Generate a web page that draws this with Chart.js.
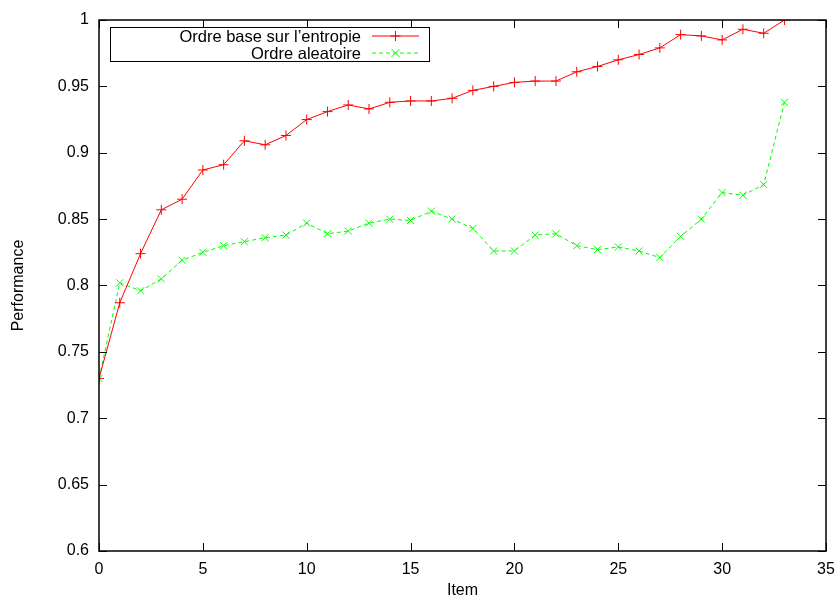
<!DOCTYPE html>
<html>
<head>
<meta charset="utf-8">
<script src="https://cdn.jsdelivr.net/npm/chart.js@4/dist/chart.umd.min.js"></script>
<style>
  body { margin: 0; background: #fff; }
  canvas { display: block; }
</style>
</head>
<body>
<canvas id="perfChart" width="838" height="600"></canvas>
<script>
// Items 0..33
const items = [0, 1, 2, 3, 4, 5, 6, 7, 8, 9, 10, 11, 12, 13, 14, 15, 16,
    17, 18, 19, 20, 21, 22, 23, 24, 25, 26, 27, 28, 29, 30, 31, 32, 33];

// Ordre base sur l'entropie
const entropyPerf = [0.730, 0.787, 0.824, 0.857, 0.865, 0.887, 0.891, 0.909, 0.906, 0.913,
    0.925, 0.931, 0.936, 0.933, 0.938, 0.939, 0.939, 0.941, 0.947, 0.950,
    0.953, 0.954, 0.954, 0.961, 0.965, 0.970, 0.974, 0.979, 0.989, 0.988,
    0.985, 0.993, 0.990, 1.000];

// Ordre aleatoire
const randomPerf = [0.730, 0.802, 0.796, 0.805, 0.819, 0.825, 0.830, 0.833, 0.836, 0.838,
    0.847, 0.839, 0.841, 0.847, 0.850, 0.849, 0.856, 0.850, 0.843, 0.826,
    0.826, 0.838, 0.839, 0.830, 0.827, 0.829, 0.826, 0.821, 0.837, 0.850,
    0.870, 0.868, 0.876, 0.938];

const xTicks = [0, 5, 10, 15, 20, 25, 30, 35];
const yTicks = [0.6, 0.65, 0.7, 0.75, 0.8, 0.85, 0.9, 0.95, 1];

const FONT = 'Liberation Sans, Arial, sans-serif';

// Gnuplot style frame: border plus inward tick marks on all sides
const framePlugin = {
    id: 'frame',
    afterDraw(chart) {
        const ctx = chart.ctx;
        const area = chart.chartArea;
        const xs = chart.scales.x;
        const ys = chart.scales.y;
        ctx.save();
        ctx.strokeStyle = '#000';
        ctx.lineWidth = 1;
        ctx.beginPath();
        xTicks.forEach(v => {
            const px = Math.round(xs.getPixelForValue(v)) + 0.5;
            ctx.moveTo(px, area.bottom);
            ctx.lineTo(px, area.bottom - 8);
            ctx.moveTo(px, area.top);
            ctx.lineTo(px, area.top + 8);
        });
        yTicks.forEach(v => {
            const py = Math.round(ys.getPixelForValue(v)) + 0.5;
            ctx.moveTo(area.left, py);
            ctx.lineTo(area.left + 8, py);
            ctx.moveTo(area.right, py);
            ctx.lineTo(area.right - 8, py);
        });
        ctx.stroke();
        ctx.lineWidth = 1.5;
        ctx.strokeRect(area.left, area.top, area.right - area.left, area.bottom - area.top);

        // legend box
        const bx = 110, by = 27, bw = 319, bh = 34;
        ctx.lineWidth = 1;
        ctx.fillStyle = '#fff';
        ctx.fillRect(bx, by, bw, bh);
        ctx.strokeRect(bx + 0.5, by + 0.5, bw, bh);
        ctx.font = '16.5px ' + FONT;
        ctx.textAlign = 'right';
        ctx.textBaseline = 'middle';
        chart.data.datasets.forEach((ds, i) => {
            const cy = by + 9 + i * 17;
            ctx.fillStyle = '#000';
            ctx.fillText(ds.label, 361, cy + 1);
            ctx.strokeStyle = ds.borderColor;
            ctx.setLineDash(ds.borderDash || []);
            ctx.beginPath();
            ctx.moveTo(372, cy);
            ctx.lineTo(419, cy);
            ctx.stroke();
            ctx.setLineDash([]);
            ctx.beginPath();
            if (ds.pointStyle === 'cross') {
                ctx.moveTo(395.5 - 5, cy);
                ctx.lineTo(395.5 + 5, cy);
                ctx.moveTo(395.5, cy - 5);
                ctx.lineTo(395.5, cy + 5);
            } else {
                ctx.moveTo(395.5 - 4, cy - 4);
                ctx.lineTo(395.5 + 4, cy + 4);
                ctx.moveTo(395.5 - 4, cy + 4);
                ctx.lineTo(395.5 + 4, cy - 4);
            }
            ctx.stroke();
        });
        ctx.restore();
    }
};

const ctx = document.getElementById('perfChart').getContext('2d');
new Chart(ctx, {
    type: 'line',
    data: {
        datasets: [{
            label: 'Ordre base sur l\u2019entropie',
            data: items.map((x, i) => ({ x: x, y: entropyPerf[i] })),
            borderColor: '#ff0000',
            backgroundColor: '#ff0000',
            borderWidth: 1,
            pointStyle: 'cross',
            pointRadius: 5,
            pointBorderWidth: 1,
            tension: 0
        }, {
            label: 'Ordre aleatoire',
            data: items.map((x, i) => ({ x: x, y: randomPerf[i] })),
            borderColor: '#00ff00',
            backgroundColor: '#00ff00',
            borderWidth: 1,
            borderDash: [4, 3],
            pointStyle: 'crossRot',
            pointRadius: 5,
            pointBorderWidth: 1,
            tension: 0
        }]
    },
    options: {
        responsive: false,
        animation: false,
        layout: { padding: { top: 20, right: 0, left: 0, bottom: 0 } },
        plugins: {
            legend: { display: false },
            tooltip: { enabled: false }
        },
        scales: {
            x: {
                type: 'linear',
                min: 0,
                max: 35,
                afterBuildTicks: scale => { scale.ticks = xTicks.map(v => ({ value: v })); },
                afterFit: scale => {
                    scale.height = 49;
                    scale.paddingRight = 12;
                    scale.paddingLeft = 0;
                },
                grid: { display: false, drawTicks: false },
                border: { display: false },
                ticks: { color: '#000', font: { family: FONT, size: 16 }, padding: 9 },
                title: { display: true, text: 'Item', color: '#000', font: { family: FONT, size: 16 }, padding: { top: 0, bottom: 0 } }
            },
            y: {
                type: 'linear',
                min: 0.6,
                max: 1,
                afterBuildTicks: scale => { scale.ticks = yTicks.map(v => ({ value: v })); },
                afterFit: scale => { scale.width = 99; },
                grid: { display: false, drawTicks: false },
                border: { display: false },
                ticks: { color: '#000', font: { family: FONT, size: 16 }, padding: 10,
                    callback: v => String(Math.round(v * 100) / 100) },
                title: { display: true, text: 'Performance', color: '#000', font: { family: FONT, size: 16 }, padding: { top: 9, bottom: 0 } }
            }
        }
    },
    plugins: [framePlugin]
});
</script>
</body>
</html>
